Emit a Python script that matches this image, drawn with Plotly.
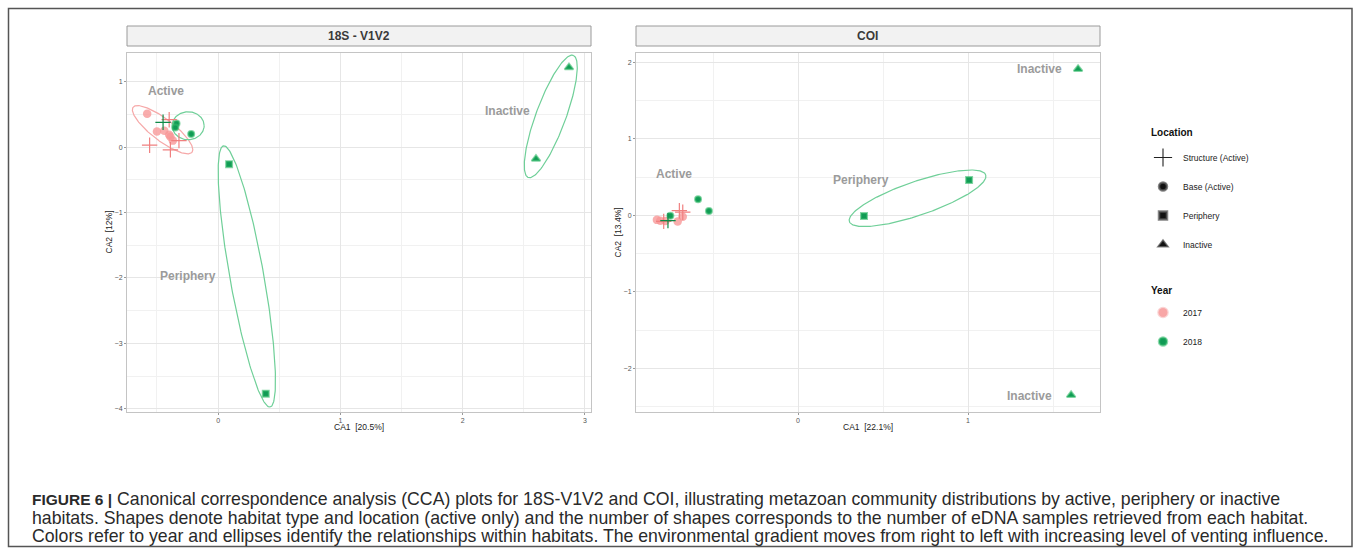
import numpy as np
import plotly.graph_objects as go

# ---------------- data ----------------
panels = ["18S - V1V2", "COI"]
x_titles = ["CA1  [20.5%]", "CA1  [22.1%]"]
y_titles = ["CA2  [12%]", "CA2  [13.4%]"]

# 18S - V1V2 samples
l_ca1 = [-0.56, -0.39, -0.32, -0.40, -0.45,
         -0.58, -0.50, -0.44, -0.40, -0.39, -0.37,
         -0.34, -0.35, -0.22,
         0.09, 0.39,
         2.87, 2.60]
l_ca2 = [0.03, -0.04, 0.10, 0.42, 0.38,
         0.51, 0.24, 0.25, 0.19, 0.16, 0.10,
         0.36, 0.30, 0.20,
         -0.26, -3.77,
         1.22, -0.18]
l_loc = ["Structure", "Structure", "Structure", "Structure", "Structure",
         "Base", "Base", "Base", "Base", "Base", "Base",
         "Base", "Base", "Base",
         "Periphery", "Periphery",
         "Inactive", "Inactive"]
l_year = ["2017", "2017", "2017", "2017", "2018",
          "2017", "2017", "2017", "2017", "2017", "2017",
          "2018", "2018", "2018",
          "2018", "2018",
          "2018", "2018"]

# COI samples
r_ca1 = [-0.698, -0.678, -0.79, -0.765,
         -0.83, -0.81, -0.78, -0.708, -0.678,
         -0.751, -0.588, -0.524,
         0.388, 1.006,
         1.647, 1.606]
r_ca2 = [0.06, 0.04, -0.08, -0.07,
         -0.06, -0.07, -0.075, -0.08, -0.02,
         -0.005, 0.21, 0.056,
         -0.01, 0.46,
         1.91, -2.35]
r_loc = ["Structure", "Structure", "Structure", "Structure",
         "Base", "Base", "Base", "Base", "Base",
         "Base", "Base", "Base",
         "Periphery", "Periphery",
         "Inactive", "Inactive"]
r_year = ["2017", "2017", "2017", "2018",
          "2017", "2017", "2017", "2017", "2017",
          "2018", "2018", "2018",
          "2018", "2018",
          "2018", "2018"]

# ellipses: panel, year, centre, two conjugate half-axis vectors (data units)
ell_panel = [0, 0, 0, 0, 1]
ell_year = ["2017", "2018", "2018", "2018", "2018"]
ell_cx = [-0.454, -0.245, 0.235, 2.721, 0.703]
ell_cy = [0.267, 0.328, -1.977, 0.470, 0.222]
ell_ax = [0.241, 0.131, 0.1905, 0.184, 0.401]
ell_ay = [-0.344, 0.0, -1.997, 0.934, 0.305]
ell_bx = [0.055, 0.0, 0.1366, 0.1145, 0.032]
ell_by = [0.133, 0.214, 0.0458, -0.078, -0.209]

# group labels
lab_panel = [0, 0, 0, 1, 1, 1, 1]
lab_text = ["Active", "Inactive", "Periphery", "Active", "Periphery", "Inactive", "Inactive"]
lab_x = [-0.425, 2.363, -0.245, -0.729, 0.371, 1.418, 1.359]
lab_y = [0.855, 0.55, -1.97, 0.54, 0.46, 1.915, -2.36]

caption_lines = [
    "<span style='font-size:15.5px'><b>FIGURE 6 |</b></span> Canonical correspondence analysis (CCA) plots for 18S-V1V2 and COI, illustrating metazoan community distributions by active, periphery or inactive",
    "habitats. Shapes denote habitat type and location (active only) and the number of shapes corresponds to the number of eDNA samples retrieved from each habitat.",
    "Colors refer to year and ellipses identify the relationships within habitats. The environmental gradient moves from right to left with increasing level of venting influence.",
]

# ---------------- styles ----------------
W, H = 1360, 548
GREEN = "#119a55"
ELL_COL = {"2017": "#f6a8a8", "2018": "#6fcf98"}


def marker_style(loc, year):
    if loc == "Structure":
        col = "#f08080" if year == "2017" else "#0f8a48"
        return dict(symbol="cross-thin", size=11, color=col, line=dict(color=col, width=1.2))
    if year == "2017":
        return dict(symbol="circle", size=8.5, color="rgba(247,150,150,0.78)", line=dict(width=0))
    sym = {"Base": "circle", "Periphery": "square", "Inactive": "triangle-up"}[loc]
    size = {"Base": 6, "Periphery": 6, "Inactive": 7.5}[loc]
    return dict(symbol=sym, size=size, color=GREEN, line=dict(color="rgba(50,185,105,0.6)", width=2))


fig = go.Figure()

ax_names = [("x", "y"), ("x2", "y2")]
t = np.linspace(0, 2 * np.pi, 240)
for i in range(len(ell_cx)):
    xa, ya = ax_names[ell_panel[i]]
    ex = ell_cx[i] + ell_ax[i] * np.cos(t) + ell_bx[i] * np.sin(t)
    ey = ell_cy[i] + ell_ay[i] * np.cos(t) + ell_by[i] * np.sin(t)
    fig.add_trace(go.Scatter(x=ex, y=ey, mode="lines", xaxis=xa, yaxis=ya,
                             line=dict(color=ELL_COL[ell_year[i]], width=1.2),
                             showlegend=False, hoverinfo="skip"))

for p, (xs, ys, locs, yrs) in enumerate([(l_ca1, l_ca2, l_loc, l_year), (r_ca1, r_ca2, r_loc, r_year)]):
    xa, ya = ax_names[p]
    order = ["Base", "Periphery", "Inactive", "Structure"]
    for loc in order:
        for yr in ["2017", "2018"]:
            idx = [k for k in range(len(xs)) if locs[k] == loc and yrs[k] == yr]
            if not idx:
                continue
            fig.add_trace(go.Scatter(x=[xs[k] for k in idx], y=[ys[k] for k in idx],
                                     mode="markers", xaxis=xa, yaxis=ya,
                                     marker=marker_style(loc, yr), showlegend=False))

# group labels
for i in range(len(lab_text)):
    xa, ya = ax_names[lab_panel[i]]
    fig.add_annotation(x=lab_x[i], y=lab_y[i], xref=xa, yref=ya, text="<b>%s</b>" % lab_text[i],
                       showarrow=False, xanchor="center", yanchor="middle",
                       font=dict(family="Arial", size=12, color="#9b9b9b"))

# legend dummies
loc_names = ["Structure (Active)", "Base (Active)", "Periphery", "Inactive"]
loc_markers = [
    dict(symbol="cross-thin", size=13, color="#222", line=dict(color="#222", width=1.1)),
    dict(symbol="circle", size=8, color="#111", line=dict(color="rgba(90,90,90,0.75)", width=2.5)),
    dict(symbol="square", size=8, color="#111", line=dict(color="rgba(90,90,90,0.75)", width=2.5)),
    dict(symbol="triangle-up", size=9, color="#111", line=dict(color="rgba(90,90,90,0.75)", width=1.5)),
]
for i, (nm, mk) in enumerate(zip(loc_names, loc_markers)):
    fig.add_trace(go.Scatter(x=[None], y=[None], mode="markers", name=nm, marker=mk,
                             legend="legend", legendgroup="loc%d" % i, showlegend=True))
year_names = ["2017", "2018"]
year_markers = [
    dict(symbol="circle", size=9, color="rgba(247,150,150,0.85)", line=dict(color="rgba(247,170,170,0.5)", width=2.5)),
    dict(symbol="circle", size=8, color=GREEN, line=dict(color="rgba(50,185,105,0.55)", width=2.5)),
]
for i, (nm, mk) in enumerate(zip(year_names, year_markers)):
    fig.add_trace(go.Scatter(x=[None], y=[None], mode="markers", name=nm, marker=mk,
                             legend="legend2", legendgroup="yr%d" % i, showlegend=True))


def px_x(v):
    return v / W


def px_y(v):
    return 1 - v / H


axis_common = dict(showline=True, mirror=True, linecolor="#c4c4c4", linewidth=1,
                   ticks="outside", ticklen=2, tickcolor="#999", tickwidth=1,
                   tickfont=dict(family="Arial", size=7, color="#555"),
                   showgrid=True, gridcolor="#e6e6e6", gridwidth=1, zeroline=False,
                   dtick=1, tick0=0,
                   minor=dict(dtick=0.5, showgrid=True, gridcolor="#f1f1f1", gridwidth=1, ticks=""))

fig.update_layout(
    xaxis=dict(domain=[px_x(127), px_x(591)], range=[-0.745, 3.05], anchor="y", **axis_common),
    yaxis=dict(domain=[px_y(412), px_y(53)], range=[-4.05, 1.44], anchor="x", **axis_common),
    xaxis2=dict(domain=[px_x(636), px_x(1100)], range=[-0.953, 1.776], anchor="y2", **axis_common),
    yaxis2=dict(domain=[px_y(412), px_y(53)], range=[-2.57, 2.12], anchor="x2", **axis_common),
)

# strips + titles
strip_x = [(127, 591), (636, 1100)]
for p in range(2):
    x0, x1 = strip_x[p]
    fig.add_shape(type="rect", xref="paper", yref="paper", x0=px_x(x0), x1=px_x(x1),
                  y0=px_y(46), y1=px_y(26), fillcolor="#f2f2f2", line=dict(color="#9a9a9a", width=1))
    fig.add_annotation(xref="paper", yref="paper", x=px_x((x0 + x1) / 2), y=px_y(36.5),
                       xanchor="center", yanchor="middle",
                       text="<b>%s</b>" % panels[p], showarrow=False,
                       font=dict(family="Arial", size=12, color="#3a3a3a"))
    fig.add_annotation(xref="paper", yref="paper", x=px_x((x0 + x1) / 2), y=px_y(427),
                       xanchor="center", yanchor="middle",
                       text=x_titles[p], showarrow=False,
                       font=dict(family="Arial", size=8.5, color="#222"))
    fig.add_annotation(xref="paper", yref="paper", x=px_x(x0 - 18), y=px_y(232.5),
                       xanchor="center", yanchor="middle",
                       text=y_titles[p], showarrow=False, textangle=-90,
                       font=dict(family="Arial", size=8.5, color="#222"))

# legend titles
fig.add_annotation(xref="paper", yref="paper", x=px_x(1149), y=px_y(132), xanchor="left", yanchor="middle",
                   text="<b>Location</b>", showarrow=False, font=dict(family="Arial", size=10, color="#111"))
fig.add_annotation(xref="paper", yref="paper", x=px_x(1149), y=px_y(290), xanchor="left", yanchor="middle",
                   text="<b>Year</b>", showarrow=False, font=dict(family="Arial", size=10, color="#111"))

# outer frame
fig.add_shape(type="rect", xref="paper", yref="paper", x0=px_x(8.5), x1=px_x(1352),
              y0=px_y(546.5), y1=px_y(8.5), line=dict(color="#555", width=1.5), fillcolor="rgba(0,0,0,0)")

# caption
cap_y = [499, 517.5, 536]
for i, line in enumerate(caption_lines):
    fig.add_annotation(xref="paper", yref="paper", x=px_x(30), y=px_y(cap_y[i]),
                       xanchor="left", yanchor="middle", text=line, showarrow=False,
                       font=dict(family="Arial", size=17.7, color="#2a2a2a"))

fig.update_layout(
    width=W, height=H, margin=dict(l=0, r=0, t=0, b=0),
    paper_bgcolor="white", plot_bgcolor="white",
    legend=dict(x=px_x(1143), y=px_y(143), xanchor="left", yanchor="top",
                font=dict(family="Arial", size=8.5, color="#222"),
                tracegroupgap=10, itemsizing="trace", bgcolor="rgba(0,0,0,0)"),
    legend2=dict(x=px_x(1143), y=px_y(298), xanchor="left", yanchor="top",
                 font=dict(family="Arial", size=8.5, color="#222"),
                 tracegroupgap=10, itemsizing="trace", bgcolor="rgba(0,0,0,0)"),
)

fig.write_html("out.html")
